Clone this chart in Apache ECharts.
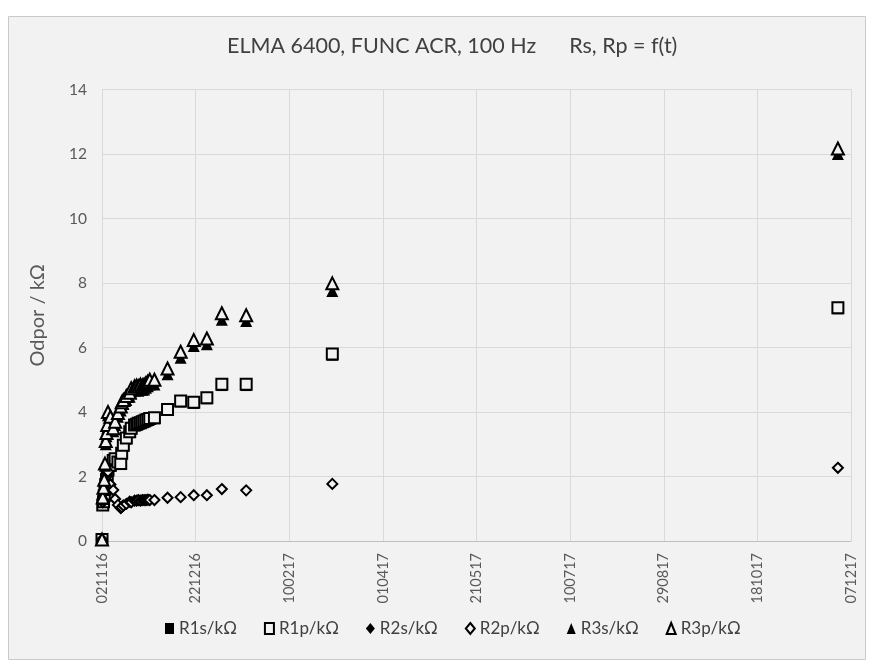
<!DOCTYPE html>
<html>
<head>
<meta charset="utf-8">
<script src="https://cdn.jsdelivr.net/npm/echarts@6/dist/echarts.min.js"></script>
<style>
body{margin:0;background:#fff}
#chart{width:872px;height:666px}
</style>
</head>
<body>
<div id="chart"></div>
<script>
// days since 02.11.2016
var day = [0, 0.4, 0.8, 1.2, 1.6, 2.0, 2.4, 2.8, 3.2, 4.5, 6, 7, 8.5, 10, 10.5, 11.4, 13, 14.8, 15.6, 17.4, 18.5, 19.4, 20.5, 21.5, 22.5, 23.5, 24.5, 25.5, 28, 35, 42, 49, 56, 64, 77, 123, 393];
var r1s = [0.05, 1.1, 1.2, 1.37, 1.57, 1.72, 1.87, 2.02, 2.17, 2.32, 2.47, 2.52, 2.42, 2.37, 2.69, 2.94, 3.16, 3.36, 3.47, 3.57, 3.59, 3.62, 3.64, 3.67, 3.69, 3.72, 3.74, 3.77, 3.79, 4.05, 4.31, 4.27, 4.41, 4.82, 4.82, 5.76, 7.2];
var r1p = [0.05, 1.12, 1.22, 1.4, 1.6, 1.75, 1.9, 2.05, 2.2, 2.35, 2.5, 2.55, 2.45, 2.4, 2.72, 2.97, 3.19, 3.39, 3.5, 3.6, 3.62, 3.65, 3.67, 3.7, 3.72, 3.75, 3.77, 3.8, 3.82, 4.08, 4.34, 4.3, 4.44, 4.86, 4.86, 5.8, 7.23];
var r2s = [0.05, 1.18, 1.25, 1.48, 1.73, 1.88, 1.98, 2.08, 2.13, 1.73, 1.56, 1.28, 1.1, 1.0, 1.03, 1.08, 1.13, 1.2, 1.18, 1.23, 1.23, 1.25, 1.23, 1.25, 1.25, 1.25, 1.26, 1.25, 1.25, 1.32, 1.34, 1.4, 1.4, 1.59, 1.55, 1.75, 2.25];
var r2p = [0.05, 1.2, 1.27, 1.5, 1.75, 1.9, 2.0, 2.1, 2.15, 1.75, 1.58, 1.3, 1.12, 1.02, 1.05, 1.1, 1.15, 1.22, 1.2, 1.25, 1.25, 1.27, 1.25, 1.27, 1.27, 1.27, 1.28, 1.27, 1.27, 1.34, 1.36, 1.42, 1.42, 1.61, 1.57, 1.77, 2.27];
var r3s = [0.05, 1.3, 1.6, 1.85, 2.33, 3.0, 3.25, 3.5, 3.9, 3.75, 3.4, 3.6, 3.85, 4.05, 4.17, 4.25, 4.37, 4.47, 4.6, 4.66, 4.68, 4.66, 4.7, 4.69, 4.7, 4.75, 4.8, 4.85, 4.85, 5.17, 5.68, 6.05, 6.1, 6.86, 6.82, 7.75, 12.0];
var r3p = [0.05, 1.35, 1.65, 1.9, 2.4, 3.1, 3.35, 3.6, 4.0, 3.85, 3.5, 3.7, 3.97, 4.17, 4.3, 4.37, 4.5, 4.6, 4.74, 4.8, 4.82, 4.8, 4.85, 4.83, 4.85, 4.9, 4.95, 5.0, 5.0, 5.35, 5.87, 6.23, 6.28, 7.06, 7.0, 7.99, 12.17];
var tickLabels = ['021116', '221216', '100217', '010417', '210517', '100717', '290817', '181017', '071217'];

var FONT = "Lato, 'Open Sans', sans-serif";

function pairs(vals){
    return day.map(function(d, i){ return [d, vals[i]]; });
}

var myChart = echarts.init(document.getElementById('chart'));

var filled = {color: '#000000', opacity: 1};
var hollow = {color: '#f2f2f2', borderColor: '#000000', borderWidth: 2, opacity: 1};

option = {
    animation: false,
    graphic: [{
        type: 'rect',
        z: -100,
        silent: true,
        shape: {x: 8.5, y: 16.5, width: 857, height: 643},
        style: {fill: '#f2f2f2', stroke: '#c9c9c9', lineWidth: 1}
    }],
    title: {
        text: 'ELMA 6400, FUNC ACR, 100 Hz      Rs, Rp = f(t)',
        left: 222,
        top: 30,
        textStyle: {color: '#404040', fontSize: 21.5, fontWeight: 'normal', fontFamily: FONT}
    },
    grid: {left: 102, right: 21, top: 89.5, bottom: 125},
    legend: {
        bottom: 24,
        left: 160,
        itemWidth: 9,
        itemHeight: 11,
        itemGap: 27,
        textStyle: {color: '#404040', fontSize: 17, fontFamily: FONT},
        data: [
            {name: 'R1s/kΩ', icon: 'rect'},
            {name: 'R1p/kΩ', icon: 'rect'},
            {name: 'R2s/kΩ', icon: 'diamond'},
            {name: 'R2p/kΩ', icon: 'diamond'},
            {name: 'R3s/kΩ', icon: 'triangle'},
            {name: 'R3p/kΩ', icon: 'triangle'}
        ]
    },
    xAxis: {
        type: 'value',
        min: 0,
        max: 400,
        interval: 50,
        axisLine: {lineStyle: {color: '#bfbfbf', width: 1}},
        axisTick: {show: false},
        splitLine: {show: true, lineStyle: {color: '#d9d9d9', width: 1}},
        axisLabel: {
            rotate: 90,
            margin: 12,
            color: '#595959',
            fontSize: 14.5,
            fontFamily: FONT,
            formatter: function(v){ return tickLabels[Math.round(v / 50)]; }
        }
    },
    yAxis: {
        type: 'value',
        min: 0,
        max: 14,
        interval: 2,
        name: 'Odpor / kΩ',
        nameLocation: 'middle',
        nameGap: 54,
        nameTextStyle: {color: '#595959', fontSize: 20, fontFamily: FONT},
        axisLine: {show: false},
        axisTick: {show: false},
        splitLine: {lineStyle: {color: '#d9d9d9', width: 1}},
        axisLabel: {color: '#595959', fontSize: 15.5, fontFamily: FONT, margin: 15}
    },
    series: [
        {name: 'R1s/kΩ', type: 'scatter', symbol: 'rect', symbolSize: 11, itemStyle: filled, data: pairs(r1s)},
        {name: 'R1p/kΩ', type: 'scatter', symbol: 'rect', symbolSize: 11, itemStyle: hollow, data: pairs(r1p)},
        {name: 'R2s/kΩ', type: 'scatter', symbol: 'diamond', symbolSize: 10, itemStyle: filled, data: pairs(r2s)},
        {name: 'R2p/kΩ', type: 'scatter', symbol: 'diamond', symbolSize: 10, itemStyle: hollow, data: pairs(r2p)},
        {name: 'R3s/kΩ', type: 'scatter', symbol: 'triangle', symbolSize: 12, itemStyle: filled, data: pairs(r3s)},
        {name: 'R3p/kΩ', type: 'scatter', symbol: 'triangle', symbolSize: 12, itemStyle: hollow, data: pairs(r3p)}
    ]
};
myChart.setOption(option);
</script>
</body>
</html>
